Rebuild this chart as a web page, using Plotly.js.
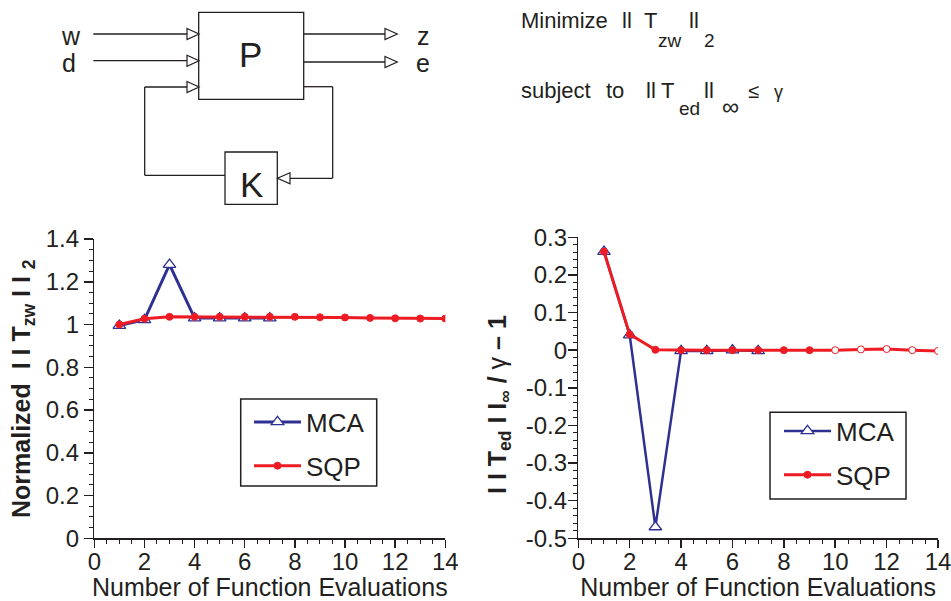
<!DOCTYPE html>
<html><head><meta charset="utf-8">
<script src="https://cdn.plot.ly/plotly-3.0.1.min.js"></script>
<style>html,body{margin:0;padding:0;background:#fff}</style>
</head><body><div id="chart" style="width:951px;height:601px"></div>
<script>
// ---------- data ----------
const evalsMCA = [1, 2, 3, 4, 5, 6, 7];
const evalsSQP = [1, 2, 3, 4, 5, 6, 7, 8, 9, 10, 11, 12, 13, 14];
const mcaH2 = [0.995, 1.022, 1.28, 1.03, 1.03, 1.03, 1.03];
const sqpH2 = [1.0, 1.027, 1.036, 1.036, 1.036, 1.036, 1.036, 1.036, 1.034, 1.033, 1.031, 1.029, 1.028, 1.028];
const mcaHinf = [0.262, 0.04, -0.47, -0.002, -0.002, 0.0, -0.002];
const sqpHinf = [0.262, 0.042, 0.001, 0.0, 0.0, 0.0, 0.0, 0.0, 0.0, 0.0, 0.002, 0.003, 0.0, -0.002];
const seriesNames = ['MCA', 'SQP'];
const xTickVals = [0, 2, 4, 6, 8, 10, 12, 14];
const xTickText = ['0', '2', '4', '6', '8', '10', '12', '14'];
const yLeftTickVals = [0, 0.2, 0.4, 0.6, 0.8, 1, 1.2, 1.4];
const yLeftTickText = ['0', '0.2', '0.4', '0.6', '0.8', '1', '1.2', '1.4'];
const yRightTickVals = [-0.5, -0.4, -0.3, -0.2, -0.1, 0, 0.1, 0.2, 0.3];
const yRightTickText = ['-0.5', '-0.4', '-0.3', '-0.2', '-0.1', '0', '0.1', '0.2', '0.3'];

// ---------- styling ----------
const W = 951, H = 601;
const X = p => p / W;
const Y = p => 1 - p / H;
const INK = '#231f20';
const BLUE = '#2e3192';
const RED = '#ed1c24';
const FONT = 'Liberation Sans, Arial, Helvetica, sans-serif';

const sqpMarkerColors = evalsSQP.map(e => e >= 10 ? '#ffffff' : RED);

function mcaTrace(x, y, xa, ya, leg, lw) {
  return {x, y, xaxis: xa, yaxis: ya, name: seriesNames[0], legend: leg, legendgroup: 'a',
    type: 'scatter', mode: 'lines+markers',
    line: {color: BLUE, width: lw},
    marker: {symbol: 'triangle-up', size: 11, color: '#ffffff', line: {color: BLUE, width: 1.3}}};
}
function sqpTrace(x, y, xa, ya, leg, colors) {
  return {x, y, xaxis: xa, yaxis: ya, name: seriesNames[1], legend: leg, legendgroup: 'b',
    type: 'scatter', mode: 'lines+markers',
    line: {color: RED, width: 3},
    marker: {symbol: 'circle', size: 7, color: colors || RED, line: {color: RED, width: 1}}};
}

const data = [
  mcaTrace(evalsMCA, mcaH2, 'x', 'y', 'legend', 3),
  sqpTrace(evalsSQP, sqpH2, 'x', 'y', 'legend'),
  mcaTrace(evalsMCA, mcaHinf, 'x2', 'y2', 'legend2', 2.5),
  sqpTrace(evalsSQP, sqpHinf, 'x2', 'y2', 'legend2', sqpMarkerColors)
];

function xAxis(domain, anchor) {
  return {domain, anchor, range: [0, 14], tickvals: xTickVals, ticktext: xTickText,
    showline: true, linecolor: INK, linewidth: 1.5, ticks: 'outside', ticklen: 8, tickwidth: 1.5, tickcolor: INK,
    minor: {dtick: 0.5, ticks: 'outside', ticklen: 4, tickwidth: 1, tickcolor: INK, showgrid: false},
    showgrid: false, zeroline: false, tickfont: {family: FONT, size: 24, color: INK},
    ticklabelstandoff: -7, ticklabeloverflow: 'allow',
    title: {text: 'Number of Function Evaluations', font: {family: FONT, size: 25, color: INK}, standoff: 10}};
}
function yAxis(domain, anchor, range, vals, text, minorStep, labelOff) {
  return {domain, anchor, range, tickvals: vals, ticktext: text,
    showline: true, linecolor: INK, linewidth: 1.5, ticks: 'outside', ticklen: 9, tickwidth: 1.5, tickcolor: INK,
    minor: {dtick: minorStep, ticks: 'outside', ticklen: 4, tickwidth: 1, tickcolor: INK, showgrid: false},
    showgrid: false, zeroline: false, tickfont: {family: FONT, size: 24, color: INK},
    ticklabelstandoff: labelOff, ticklabeloverflow: 'allow'};
}

// ---------- block diagram & text ----------
const shapes = [];
function seg(x0, y0, x1, y1) {
  shapes.push({type: 'line', xref: 'paper', yref: 'paper', x0: X(x0), y0: Y(y0), x1: X(x1), y1: Y(y1),
    line: {color: INK, width: 1.3}});
}
function box(x0, y0, x1, y1, w) {
  shapes.push({type: 'rect', xref: 'paper', yref: 'paper', x0: X(x0), y0: Y(y0), x1: X(x1), y1: Y(y1),
    line: {color: INK, width: w || 1.3}, fillcolor: 'rgba(0,0,0,0)'});
}
function arrow(bx, tx, y) {
  const h = 5.5;
  shapes.push({type: 'path', xref: 'paper', yref: 'paper',
    path: `M${X(bx)},${Y(y - h)} L${X(tx)},${Y(y)} L${X(bx)},${Y(y + h)} Z`,
    line: {color: INK, width: 1.2}, fillcolor: '#ffffff'});
}
// P and K
box(198.7, 12.3, 303.7, 99.3);
box(225, 152, 277.3, 204.3);
// inputs
seg(93.3, 34, 187, 34); arrow(187, 199, 34);
seg(93.3, 60.7, 187, 60.7); arrow(187, 199, 60.7);
seg(144.7, 87, 187, 87); arrow(187, 199, 87);
seg(144.7, 87, 144.7, 175.3); seg(144.7, 175.3, 225, 175.3);
// outputs
seg(303.7, 34, 385, 34); arrow(385, 397.3, 34);
seg(303.7, 62, 385, 62); arrow(385, 397.3, 62);
seg(303.7, 86.7, 332.7, 86.7); seg(332.7, 86.7, 332.7, 178.3); seg(332.7, 178.3, 290, 178.3);
arrow(290, 277.5, 178.3);
// legend boxes
box(240.7, 399, 376.7, 486, 1.5);
box(770, 412.3, 906, 499, 1.5);

const annotations = [];
function txt(text, left, baseline, size, extra) {
  annotations.push(Object.assign({text, xref: 'paper', yref: 'paper', x: X(left - 1), y: Y(baseline - 0.35 * size),
    xanchor: 'left', yanchor: 'middle', showarrow: false,
    font: {family: FONT, size, color: INK}}, extra || {}));
}
function ctxt(text, cx, baseline, size) {
  annotations.push({text, xref: 'paper', yref: 'paper', x: X(cx), y: Y(baseline - 0.35 * size),
    xanchor: 'center', yanchor: 'middle', showarrow: false, font: {family: FONT, size, color: INK}});
}
txt('w', 60, 44.5, 25); txt('d', 60.5, 71.5, 25);
txt('z', 416, 44.5, 25); txt('e', 415, 71.5, 25);
ctxt('P', 250.5, 66.7, 35); ctxt('K', 251.7, 196.7, 35);

txt('Minimize', 520, 28, 22);
txt('ll', 621, 28, 22); txt('T', 643, 28, 22);
txt('zw', 656.7, 46.7, 19);
txt('ll', 688, 28, 22);
txt('2', 703, 46.7, 19);
txt('subject', 520, 98.3, 22); txt('to', 605, 98.3, 22);
txt('ll', 645, 98.3, 22); txt('T', 660, 98.3, 22);
txt('ed', 678.3, 115, 19);
txt('ll', 703.3, 98.3, 22);
txt('\u221e', 721, 115, 24);
txt('\u2264', 746.7, 98.3, 20);
txt('\u03b3', 773, 98.3, 18);

// y axis titles
annotations.push({text: '<b>Normalized  I I T<sub>zw</sub> I I <sub>2</sub></b>', xref: 'paper', yref: 'paper',
  x: X(22.5), y: Y(388.5), xanchor: 'center', yanchor: 'middle', textangle: -90, showarrow: false,
  font: {family: FONT, size: 25, color: INK}});
annotations.push({text: '<b>I I T<sub>ed</sub> I I<sub>\u221e</sub> / </b>\u03b3<b> \u2013 1</b>', xref: 'paper', yref: 'paper',
  x: X(499), y: Y(404), xanchor: 'center', yanchor: 'middle', textangle: -90, showarrow: false,
  font: {family: FONT, size: 25, color: INK}});

const legendBase = {xanchor: 'left', yanchor: 'top', bgcolor: 'rgba(0,0,0,0)', borderwidth: 0,
  font: {family: FONT, size: 26, color: INK}, itemwidth: 47, tracegroupgap: 7, itemclick: false, itemdoubleclick: false};

const layout = {
  width: W, height: H, margin: {l: 0, r: 0, t: 0, b: 0},
  paper_bgcolor: '#ffffff', plot_bgcolor: '#ffffff',
  font: {family: FONT, color: INK},
  showlegend: true,
  legend: Object.assign({x: X(249), y: Y(398.5)}, legendBase),
  legend2: Object.assign({x: X(779), y: Y(407.5)}, legendBase),
  xaxis: xAxis([X(94.3), X(445.3)], 'y'),
  yaxis: yAxis([Y(538.3), Y(239)], 'x', [0, 1.4], yLeftTickVals, yLeftTickText, 0.05, 0),
  xaxis2: xAxis([X(578.3), X(938)], 'y2'),
  yaxis2: yAxis([Y(538.3), Y(237.3)], 'x2', [-0.5, 0.3], yRightTickVals, yRightTickText, 0.02, -4),
  shapes, annotations, hovermode: false
};

Plotly.newPlot('chart', data, layout, {displayModeBar: false, staticPlot: true});
</script></body></html>
